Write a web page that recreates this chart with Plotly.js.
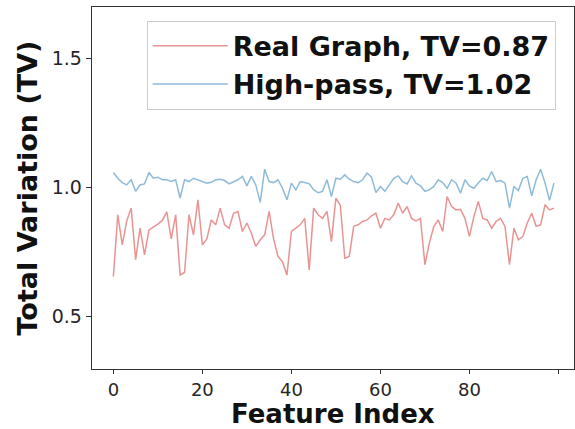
<!DOCTYPE html>
<html>
<head>
<meta charset="utf-8">
<script src="https://cdn.plot.ly/plotly-3.0.1.min.js"></script>
<style>
html,body{margin:0;padding:0;background:#fff;overflow:hidden;}
#chart{width:575px;height:429px;}
</style>
</head>
<body>
<div id="chart"></div>
<script>
var featureIndex = [];
for (var k = 0; k < 100; k++) featureIndex.push(k);

var realGraphTV = [
  0.654, 0.894, 0.777, 0.870, 0.920, 0.720, 0.842, 0.738, 0.835, 0.845,
  0.858, 0.872, 0.905, 0.800, 0.894, 0.660, 0.670, 0.894, 0.816, 0.952,
  0.777, 0.800, 0.874, 0.855, 0.920, 0.855, 0.842, 0.900, 0.907, 0.829,
  0.862, 0.823, 0.771, 0.797, 0.816, 0.907, 0.800, 0.732, 0.712, 0.660,
  0.829, 0.842, 0.855, 0.880, 0.680, 0.920, 0.894, 0.880, 0.907, 0.790,
  0.959, 0.930, 0.725, 0.732, 0.849, 0.855, 0.868, 0.874, 0.890, 0.900,
  0.842, 0.880, 0.874, 0.894, 0.940, 0.900, 0.926, 0.880, 0.870, 0.880,
  0.700, 0.784, 0.849, 0.874, 0.829, 0.965, 0.926, 0.913, 0.915, 0.880,
  0.810, 0.887, 0.946, 0.880, 0.874, 0.842, 0.868, 0.880, 0.849, 0.700,
  0.842, 0.797, 0.810, 0.862, 0.900, 0.849, 0.855, 0.933, 0.913, 0.920
];

var highPassTV = [
  1.058, 1.036, 1.019, 1.010, 1.030, 0.985, 1.010, 1.014, 1.058, 1.036,
  1.040, 1.030, 1.030, 1.023, 1.030, 0.959, 1.030, 1.023, 1.036, 1.030,
  1.025, 1.017, 1.020, 1.030, 1.032, 1.027, 1.014, 1.023, 1.030, 1.043,
  1.006, 1.043, 1.010, 0.942, 1.071, 1.023, 1.019, 1.030, 0.997, 0.952,
  1.017, 0.991, 1.023, 1.019, 1.014, 0.991, 0.980, 0.985, 1.030, 0.965,
  1.036, 1.032, 1.049, 1.032, 1.023, 1.019, 1.030, 1.056, 1.040, 0.980,
  1.004, 0.985, 1.010, 1.036, 1.045, 1.023, 1.014, 1.045, 1.017, 1.006,
  0.985, 0.991, 1.004, 1.030, 1.019, 0.997, 1.030, 1.017, 0.978, 1.030,
  1.006, 0.997, 1.017, 1.036, 1.027, 1.062, 1.023, 1.027, 1.017, 0.920,
  1.004, 0.988, 1.036, 1.043, 0.968, 1.030, 1.071, 1.017, 0.950, 1.017
];

var seriesNames = ['Real Graph, TV=0.87', 'High-pass, TV=1.02'];
var xTickVals = [0, 20, 40, 60, 80, 100];
var yTickVals = [0.5, 1.0, 1.5];
var xTitle = 'Feature Index';
var yTitle = 'Total Variation (TV)';

var FONT = 'DejaVu Sans, Verdana, sans-serif';

var traces = [
  {x: featureIndex, y: realGraphTV, name: seriesNames[0], type: 'scatter', mode: 'lines',
   line: {color: 'rgba(214,39,40,0.5)', width: 1.5}},
  {x: featureIndex, y: highPassTV, name: seriesNames[1], type: 'scatter', mode: 'lines',
   line: {color: 'rgba(31,119,180,0.5)', width: 1.5}}
];

var layout = {
  width: 575, height: 429,
  margin: {l: 92, r: 1, t: 7, b: 60, pad: 0},
  paper_bgcolor: '#fff', plot_bgcolor: '#fff',
  font: {family: FONT, color: '#222'},
  showlegend: true,
  legend: {
    x: 0.1135, y: 0.962, xanchor: 'left', yanchor: 'top',
    bgcolor: 'rgba(255,255,255,0.8)', bordercolor: '#cccccc', borderwidth: 1,
    font: {family: FONT, size: 27, color: '#111', weight: 700},
    itemwidth: 75, tracegroupgap: 0
  },
  xaxis: {
    range: [-4.8, 103.5], tickvals: xTickVals, ticktext: xTickVals.map(String),
    showgrid: false, zeroline: false, showline: true, mirror: true,
    linecolor: '#333', linewidth: 1.3,
    ticks: 'outside', ticklen: 4, tickwidth: 1.2, tickcolor: '#333',
    tickfont: {family: FONT, size: 18, color: '#262626'},
    automargin: false
  },
  yaxis: {
    range: [0.295, 1.701], tickvals: yTickVals, ticktext: ['0.5', '1.0', '1.5'],
    showgrid: false, zeroline: false, showline: true, mirror: true,
    linecolor: '#333', linewidth: 1.3,
    ticks: 'outside', ticklen: 5, tickwidth: 1.2, tickcolor: '#333',
    tickfont: {family: FONT, size: 19, color: '#262626'},
    title: {text: yTitle, font: {family: FONT, size: 27, color: '#111', weight: 700}, standoff: 6},
    automargin: false
  },
  annotations: [{
    text: xTitle, xref: 'paper', yref: 'paper', x: 0.5, y: -0.1245,
    xanchor: 'center', yanchor: 'middle', showarrow: false, borderpad: 0,
    font: {family: FONT, size: 26, color: '#111', weight: 700}
  }]
};

Plotly.newPlot('chart', traces, layout, {displayModeBar: false, staticPlot: true});
</script>
</body>
</html>
